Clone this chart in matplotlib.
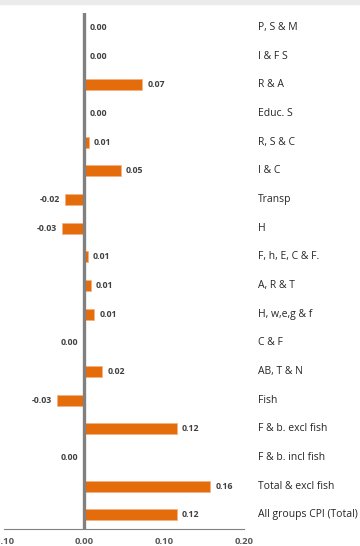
import matplotlib
matplotlib.use("Agg")
import matplotlib.pyplot as plt
from matplotlib.patches import Rectangle

plt.rcParams['font.family'] = ['Open Sans', 'DejaVu Sans']

# categories from top to bottom
categories = ["P, S & M", "I & F S", "R & A", "Educ. S", "R, S & C", "I & C",
              "Transp", "H", "F, h, E, C & F.", "A, R & T", "H, w,e,g & f",
              "C & F", "AB, T & N", "Fish", "F & b. excl fish",
              "F & b. incl fish", "Total & excl fish", "All groups CPI (Total)"]
values = [0.001, 0.001, 0.073, 0.001, 0.006, 0.046,
          -0.024, -0.028, 0.005, 0.009, 0.013,
          -0.001, 0.023, -0.034, 0.116,
          -0.001, 0.158, 0.116]
xticks = [-0.10, 0.00, 0.10, 0.20]

orange = "#E46C0A"
grey_txt = "#404040"

fig = plt.figure(figsize=(3.6, 5.46), dpi=100)
ax = fig.add_axes([0.011, 0.031, 0.667, 0.945])

ypos = list(range(len(categories)))[::-1]
ax.barh(ypos, values, height=0.38, color=orange, edgecolor="#F4B183", linewidth=0.5, zorder=2)

ax.set_xlim(-0.10, 0.20)
ax.set_ylim(-0.5, len(categories) - 0.5)

# value labels
for y, v in zip(ypos, values):
    lab = f"{v:.2f}".replace("-0.00", "0.00")
    if v >= 0:
        ax.text(v + 0.006, y, lab, ha="left", va="center", fontsize=6.3,
                fontweight="bold", color=grey_txt)
    else:
        ax.text(v - 0.006, y, lab, ha="right", va="center", fontsize=6.3,
                fontweight="bold", color=grey_txt)

# category labels on the right
for y, c in zip(ypos, categories):
    ax.text(1.058, y, c, transform=ax.get_yaxis_transform(), ha="left", va="center",
            fontsize=7.5, color="#262626", clip_on=False)

# zero axis line
ax.axvline(0, color="#808080", linewidth=2.4, zorder=3)

for s in ["top", "right", "left"]:
    ax.spines[s].set_visible(False)
ax.spines["bottom"].set_color("#808080")
ax.spines["bottom"].set_linewidth(0.8)

ax.set_yticks([])
ax.set_xticks(xticks)
ax.set_xticklabels([f"{t:.2f}" for t in xticks], fontsize=6.8, fontweight="bold", color="#595959")
ax.tick_params(axis="x", length=0, pad=6)

# light band across the top
fig.patches.append(Rectangle((0, 0.993), 1, 0.007, transform=fig.transFigure,
                             color="#EBEBEB", zorder=0))

fig.savefig("out.png", dpi=100)
